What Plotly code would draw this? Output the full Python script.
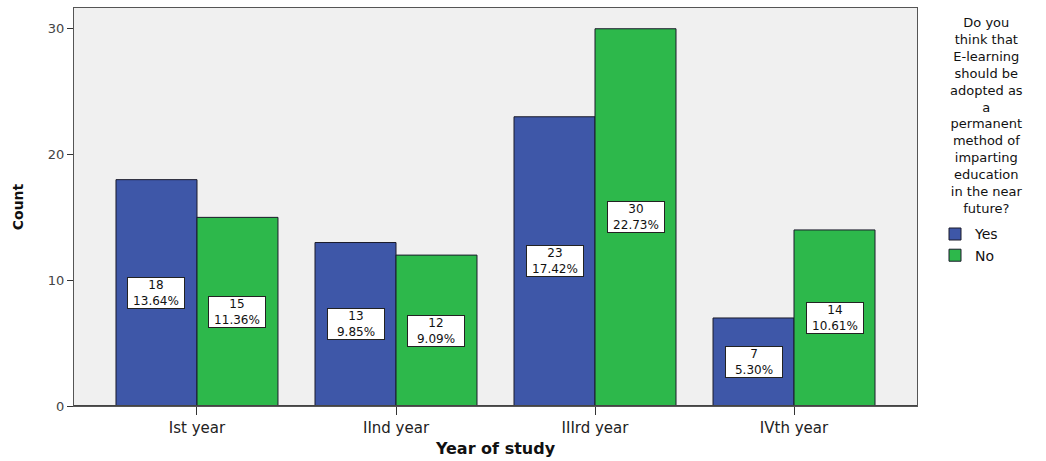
import plotly.graph_objects as go

categories = ["Ist year", "IInd year", "IIIrd year", "IVth year"]
yes_counts = [18, 13, 23, 7]
no_counts = [15, 12, 30, 14]
series_names = ["Yes", "No"]
series_colors = ["#3E57A8", "#2DB84B"]
y_ticks = [0, 10, 20, 30]
legend_title_lines = ["Do you", "think that", "E-learning", "should be", "adopted as", "a",
                      "permanent", "method of", "imparting", "education", "in the near", "future?"]

FONT = "DejaVu Sans, Arial, sans-serif"
total = sum(yes_counts) + sum(no_counts)
bargap = 0.186

L, R, T, B = 74, 129, 7, 53
pw = 1046 - L - R
ph = 461 - T - B


def px_x(p):
    return (p - L) / pw


def px_y(p):
    return (461 - B - p) / ph


fig = go.Figure()
for name, vals, col in zip(series_names, [yes_counts, no_counts], series_colors):
    fig.add_trace(go.Bar(x=categories, y=vals, name=name,
                         marker=dict(color=col, line=dict(color="#1a1a2a", width=1))))

annotations = []
half = (1 - bargap) / 4
for s, vals in enumerate([yes_counts, no_counts]):
    for i, v in enumerate(vals):
        xpos = i - half if s == 0 else i + half
        annotations.append(dict(
            x=xpos, y=v / 2, xref="x", yref="y",
            text=f"{v}<br>{v / total * 100:.2f}%", showarrow=False,
            font=dict(family=FONT, size=12, color="#111"),
            bgcolor="white", bordercolor="#222", borderwidth=1, borderpad=0,
            width=56, align="center"))

annotations.append(dict(
    x=px_x(986), y=px_y(12), xref="paper", yref="paper", text="<br>".join(legend_title_lines),
    showarrow=False, xanchor="center", yanchor="top", align="center",
    font=dict(family=FONT, size=13, color="#111")))

fig.update_layout(
    width=1046, height=461,
    margin=dict(l=L, r=R, t=T, b=B),
    paper_bgcolor="white", plot_bgcolor="#F0F0F0",
    barmode="group", bargap=bargap, bargroupgap=0,
    font=dict(family=FONT, color="#222"),
    annotations=annotations,
    legend=dict(x=px_x(935), y=px_y(219), xanchor="left", yanchor="top",
                font=dict(family=FONT, size=14, color="#111"), bgcolor="rgba(0,0,0,0)",
                tracegroupgap=0, itemwidth=30),
    showlegend=True,
)
fig.update_xaxes(range=[-0.618, 3.618], showline=True, mirror=True, linecolor="#555", linewidth=1,
                 ticks="outside", ticklen=8, tickcolor="#333", tickfont=dict(size=15, color="#222"),
                 title=dict(text="<b>Year of study</b>", font=dict(size=16, color="#111"), standoff=6),
                 showgrid=False)
fig.update_yaxes(range=[0, 31.65], tickvals=y_ticks, showline=True, mirror=True, linecolor="#555",
                 linewidth=1, ticks="outside", ticklen=6, tickcolor="#333",
                 tickfont=dict(size=13, color="#444"), showgrid=False, zeroline=False,
                 title=dict(text="<b>Count</b>", font=dict(size=14, color="#111"), standoff=20))
fig.add_shape(type="line", xref="paper", yref="y", x0=0, x1=1, y0=0, y1=0,
              line=dict(color="#444", width=2))

fig.write_html("out.html")
